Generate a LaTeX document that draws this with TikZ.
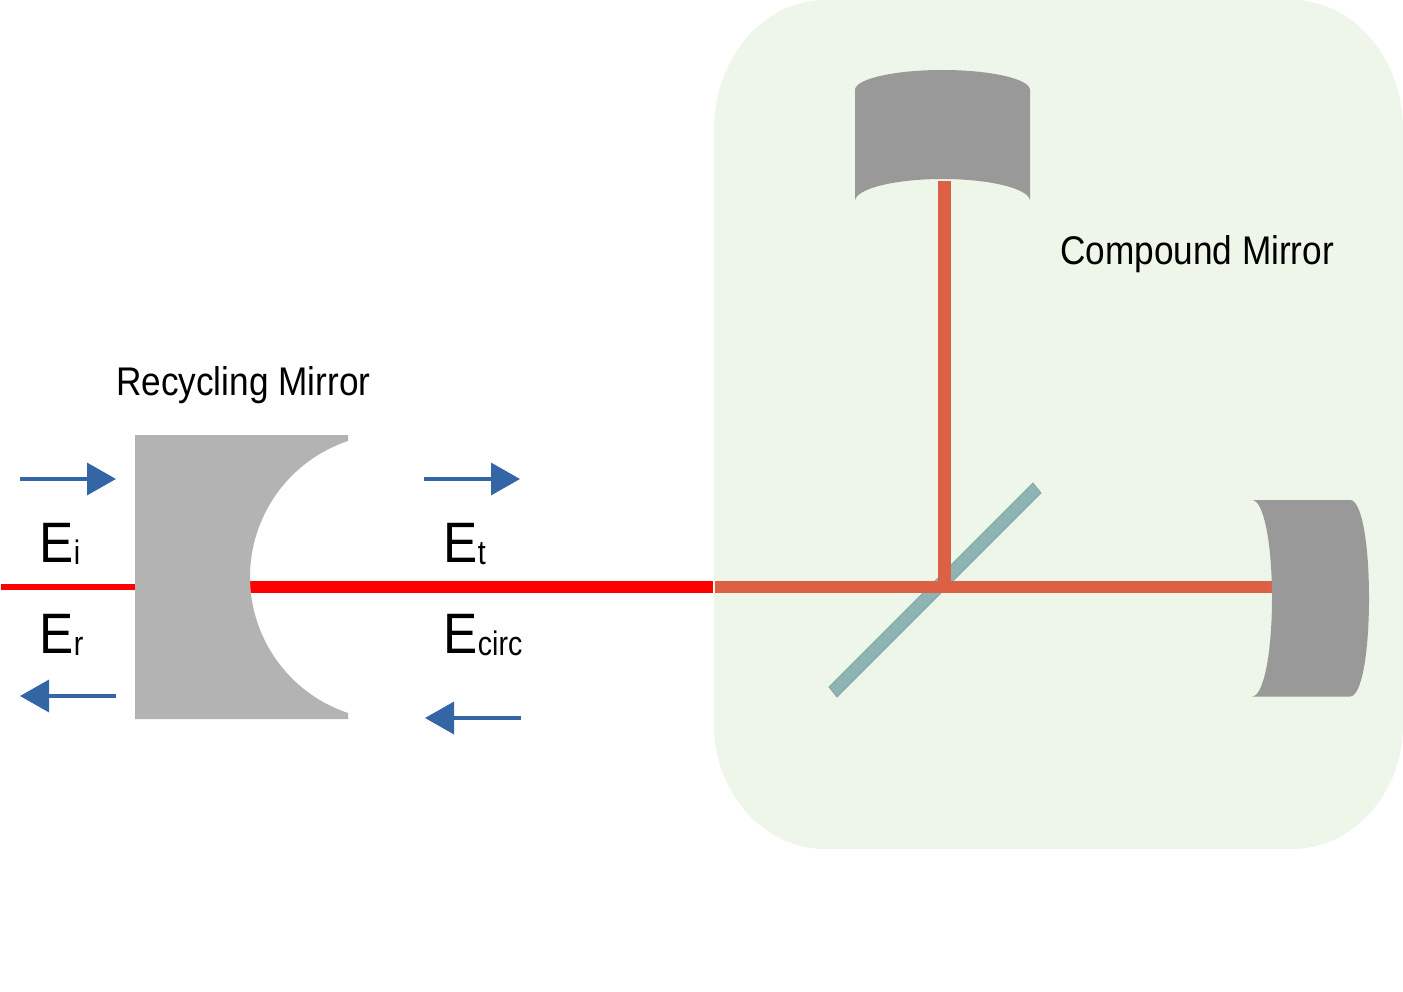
\documentclass[tikz,border=0pt]{standalone}
\usepackage{fontspec}
\setmainfont{Liberation Sans}
\newfontfamily\capfont[FakeStretch=0.88]{Liberation Sans}
\newfontfamily\bigfont[FakeStretch=0.9]{Liberation Sans}
\newfontfamily\subfont[FakeStretch=0.84]{Liberation Sans}
\usetikzlibrary{arrows.meta}
\definecolor{bggreen}{HTML}{EEF5E9}
\definecolor{recgrey}{HTML}{B3B3B3}
\definecolor{mirgrey}{HTML}{999999}
\definecolor{splitter}{HTML}{8FB4B4}
\definecolor{splitedge}{HTML}{7FA8A8}
\definecolor{beamorange}{HTML}{DC6044}
\definecolor{arrowblue}{HTML}{3465A4}
\tikzset{
  x=1pt,y=-1pt,
  flow/.style={draw=arrowblue,line width=3.5pt,-{Triangle[length=29pt,width=32pt,fill=arrowblue]},shorten >=0pt},
  bigtext/.style={anchor=base west,inner sep=0pt,font=\bigfont\fontsize{57}{57}\selectfont},
  captext/.style={anchor=base west,inner sep=0pt,font=\capfont\fontsize{40}{40}\selectfont},
  thinbeam/.style={draw=red,line width=6pt},
  redbeam/.style={draw=red,line width=12.5pt},
  orangebeam/.style={draw=beamorange,line width=12.5pt},
}
\newcommand{\subt}[1]{\raisebox{-2.5pt}{\subfont\fontsize{34}{34}\selectfont #1}}
\begin{document}
\begin{tikzpicture}
\useasboundingbox (0,0) rectangle (1403,992);
% compound mirror background
\fill[bggreen] (825,0) -- (1292,0) .. controls (1353,0) and (1403,58) .. (1403,130)
  -- (1403,725) .. controls (1403,793) and (1353,849) .. (1292,849)
  -- (825,849) .. controls (764,849) and (714,793) .. (714,725)
  -- (714,130) .. controls (714,58) and (764,0) .. (825,0) -- cycle;
% beam end points
\coordinate (inL) at (1,587);
\coordinate (inR) at (135,587);
\coordinate (cavL) at (250,587);
\coordinate (cavR) at (713,587);
\coordinate (armL) at (714.5,587);
\coordinate (armR) at (1272,587);
\coordinate (armJ) at (944.5,587);
\coordinate (armT) at (944.5,181);
% splitter
\filldraw[fill=splitter,draw=splitedge,line width=0.8pt] (1033,483) -- (1041,493) -- (837,697) -- (829,687) -- cycle;
% beams
\draw[thinbeam] (inL) -- (inR);
\draw[redbeam] (cavL) -- (cavR);
\draw[orangebeam] (armT) -- (armJ);
\draw[orangebeam] (armL) -- (armR);
% recycling mirror
\fill[recgrey] (135,435) -- (348,435) -- (348,441)
  .. controls (289.5,460.5) and (250,515.3) .. (250,577)
  .. controls (250,638.7) and (289.5,693.5) .. (348,713)
  -- (348,719) -- (135,719) -- cycle;
% end mirrors
\fill[mirgrey] (855,90) .. controls (855,79) and (894,70) .. (942.5,70)
  .. controls (991,70) and (1030,79) .. (1030,90)
  -- (1030,201) .. controls (1030,189) and (991,179) .. (942.5,179)
  .. controls (894,179) and (855,189) .. (855,201) -- cycle;
\fill[mirgrey] (1252,500) -- (1350,500) .. controls (1362,500) and (1369,545) .. (1369,598)
  .. controls (1369,651) and (1362,696.5) .. (1350,696.5)
  -- (1252,696.5) .. controls (1264,696.5) and (1272,651) .. (1272,598)
  .. controls (1272,545) and (1264,500) .. (1252,500) -- cycle;
% arrows
\coordinate (a1s) at (20,479); \coordinate (a1e) at (116,479);
\coordinate (a2s) at (116,696); \coordinate (a2e) at (20,696);
\coordinate (a3s) at (424,479); \coordinate (a3e) at (520,479);
\coordinate (a4s) at (521,718); \coordinate (a4e) at (425,718);
\draw[flow] (a1s) -- (a1e);
\draw[flow] (a2s) -- (a2e);
\draw[flow] (a3s) -- (a3e);
\draw[flow] (a4s) -- (a4e);
% labels
\node[bigtext] (ei) at (39.5,562) {E\subt{i}};
\node[bigtext] (er) at (39.5,653) {E\subt{r}};
\node[bigtext] (et) at (443.5,562) {E\subt{t}};
\node[bigtext] (ecirc) at (443.5,653) {E\subt{circ}};
\node[captext] (rec) at (116,395) {Recycling Mirror};
\node[captext] (com) at (1060,265) {Compound Mirror};
\end{tikzpicture}
\end{document}
